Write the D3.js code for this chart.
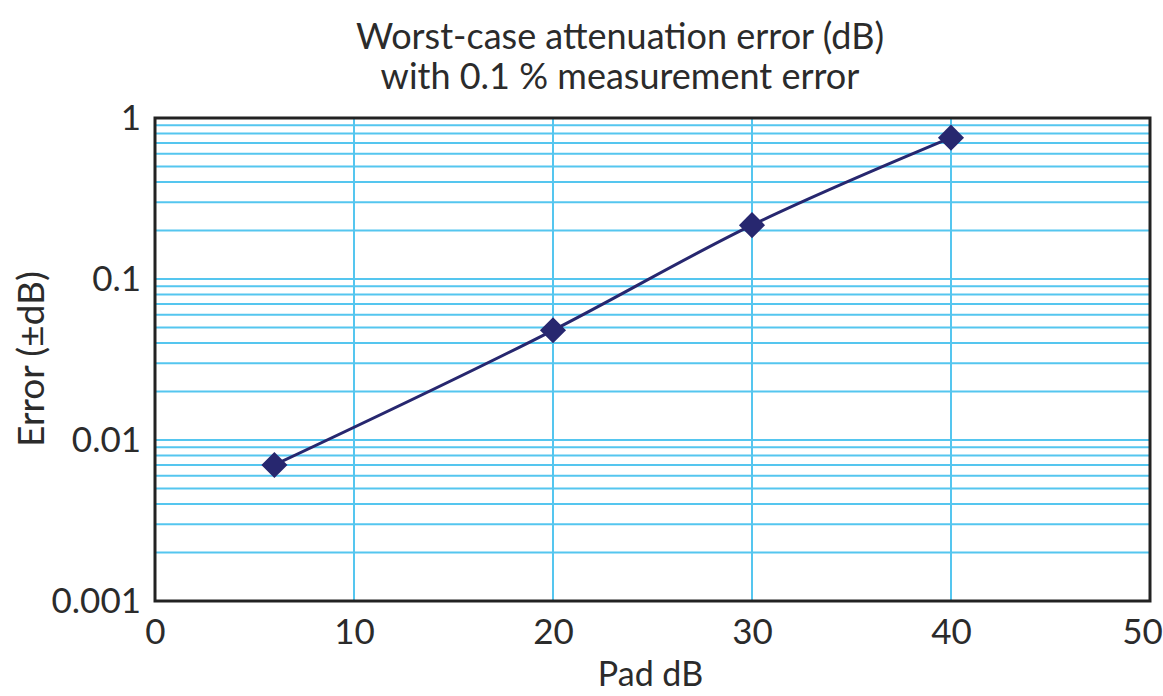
<!DOCTYPE html>
<html>
<head>
<meta charset="utf-8">
<script src="https://cdn.jsdelivr.net/npm/d3@7"></script>
<style>
  body { margin: 0; background: #fff; }
  text { font-family: Lato, "Noto Sans", sans-serif; fill: #2b2b2b; }
</style>
</head>
<body>
<svg width="1163" height="696"></svg>
<script>
// data
const padDb = [6, 20, 30, 40];
const errorDb = [0.0070, 0.048, 0.216, 0.755];
const xTicks = [0, 10, 20, 30, 40, 50];
const yTicks = [0.001, 0.01, 0.1, 1];
const yTickLabels = ["0.001", "0.01", "0.1", "1"];
const titleLines = ["Worst-case attenuation error (dB)", "with 0.1 % measurement error"];

const svg = d3.select("svg"),
    margin = { top: 118, right: 13, bottom: 95, left: 155 },
    width = +svg.attr("width") - margin.left - margin.right,
    height = +svg.attr("height") - margin.top - margin.bottom;

const x = d3.scaleLinear().domain([0, 50]).range([0, width]),
    y = d3.scaleLog().domain([0.001, 1]).range([height, 0]),
    g = svg.append("g").attr("transform", `translate(${margin.left},${margin.top})`);

const gridBlue = "#55c6ef";

// minor log gridlines 1..9 x 10^k
const minor = [];
[0.001, 0.01, 0.1].forEach(p => {
    for (let m = 1; m < 10; m++) minor.push(p * m);
});
g.selectAll(".hgrid")
    .data(minor.filter(v => v > 0.001 && v < 1))
    .join("line")
    .attr("x1", 0).attr("x2", width)
    .attr("y1", d => y(d)).attr("y2", d => y(d))
    .attr("stroke", gridBlue).attr("stroke-width", 2);

g.selectAll(".vgrid")
    .data(xTicks.filter(v => v > 0 && v < 50))
    .join("line")
    .attr("x1", d => x(d)).attr("x2", d => x(d))
    .attr("y1", 0).attr("y2", height)
    .attr("stroke", gridBlue).attr("stroke-width", 2);

// frame
g.append("rect")
    .attr("width", width).attr("height", height)
    .attr("fill", "none").attr("stroke", "#222").attr("stroke-width", 3);

// line + markers
const pts = padDb.map((d, i) => [d, errorDb[i]]);
g.append("path")
    .datum(pts)
    .attr("fill", "none")
    .attr("stroke", "#27276f")
    .attr("stroke-width", 3)
    .attr("d", d3.line().x(d => x(d[0])).y(d => y(d[1])).curve(d3.curveMonotoneX));

g.selectAll(".mk")
    .data(pts)
    .join("path")
    .attr("transform", d => `translate(${x(d[0])},${y(d[1])}) rotate(45)`)
    .attr("d", d3.symbol().type(d3.symbolSquare).size(340))
    .attr("fill", "#27276f");

// axes
const xAxis = g.append("g")
    .attr("transform", `translate(0,${height})`)
    .call(d3.axisBottom(x).tickValues(xTicks).tickSize(0).tickPadding(18));
xAxis.select(".domain").remove();
xAxis.selectAll("text").style("font-size", "35px").attr("fill", "#2b2b2b")
    .attr("dx", d => d === 50 ? -8 : 0);

const yAxis = g.append("g")
    .call(d3.axisLeft(y).tickValues(yTicks).tickSize(0).tickPadding(14)
        .tickFormat((d, i) => yTickLabels[i]));
yAxis.select(".domain").remove();
yAxis.selectAll("text").style("font-size", "35px").attr("fill", "#2b2b2b");

// labels
svg.append("text")
    .attr("x", margin.left + width / 2 - 2)
    .attr("y", 686)
    .attr("text-anchor", "middle")
    .style("font-size", "34px")
    .text("Pad dB");

svg.append("text")
    .attr("transform", `translate(44,${margin.top + 241}) rotate(-90)`)
    .attr("text-anchor", "middle")
    .style("font-size", "37px")
    .text("Error (±dB)");

svg.selectAll(".title")
    .data(titleLines)
    .join("text")
    .attr("x", 620)
    .attr("y", (d, i) => 49 + i * 40)
    .attr("text-anchor", "middle")
    .style("font-size", "36px")
    .text(d => d);
</script>
</body>
</html>
